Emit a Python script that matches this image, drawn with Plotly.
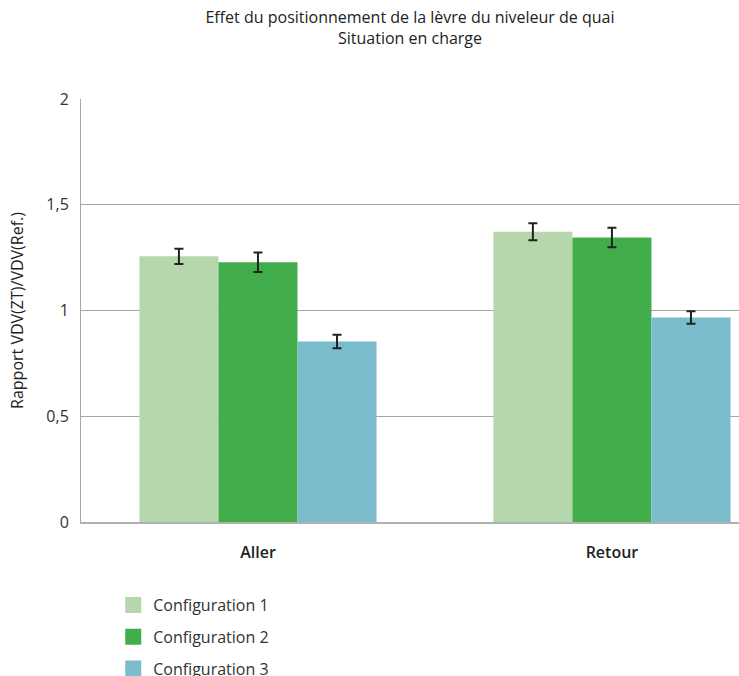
import plotly.graph_objects as go

categories = ["Aller", "Retour"]
series_names = ["Configuration 1", "Configuration 2", "Configuration 3"]
config1 = [1.256, 1.372]
config2 = [1.228, 1.345]
config3 = [0.853, 0.967]
err1 = [0.036, 0.040]
err2 = [0.046, 0.046]
err3 = [0.032, 0.030]
colors = ["#b6d7ac", "#41ae4b", "#7bbccd"]
y_ticks = [0, 0.5, 1, 1.5, 2]
y_tick_labels = ["0", "0,5", "1", "1,5", "2"]

FONT = "Open Sans"
fig = go.Figure()
for name, vals, errs, col in zip(series_names, [config1, config2, config3], [err1, err2, err3], colors):
    fig.add_trace(go.Bar(
        x=categories, y=vals, name=name, marker_color=col, marker_line_width=0,
        showlegend=False, legendgroup=name,
        error_y=dict(type="data", array=errs, visible=True, color="#222222", thickness=2, width=4.5),
    ))
for name, col in zip(series_names, colors):
    fig.add_trace(go.Scatter(
        x=[None], y=[None], mode="markers", name=name, legendgroup=name,
        marker=dict(symbol="square", size=20, color=col),
    ))

fig.update_layout(
    width=739, height=676,
    margin=dict(l=81, r=0, t=99, b=154, autoexpand=False),
    paper_bgcolor="white", plot_bgcolor="white",
    separators=", ",
    barmode="group", bargap=0.33, bargroupgap=0,
    font=dict(family=FONT, size=16, color="#333333"),
    title=dict(
        text="Effet du positionnement de la lèvre du niveleur de quai<br>Situation en charge",
        x=0.5, xref="paper", xanchor="center", y=0.966, yanchor="top",
        font=dict(family=FONT, size=16, color="#222222"),
    ),
    legend=dict(
        x=0.049, xanchor="left", y=-0.156, yanchor="top", orientation="v",
        font=dict(family=FONT, size=16, color="#333333"),
        tracegroupgap=8, itemsizing="trace",
    ),
    xaxis=dict(
        type="category", range=[-0.5, 1.359], showgrid=False,
        showline=True, linecolor="#b0b0b0", linewidth=2,
        ticks="", ticklabelstandoff=15,
        tickfont=dict(family=FONT, size=16, color="#222222", weight=600),
    ),
    yaxis=dict(
        range=[0, 2], tickvals=y_ticks, ticktext=y_tick_labels,
        showgrid=True, gridcolor="#a6a6a6", gridwidth=1,
        showline=True, linecolor="#a6a6a6", linewidth=1,
        zeroline=False, ticks="", ticklabelstandoff=8,
        title=dict(text="Rapport VDV(ZT)/VDV(Ref.)", standoff=18, font=dict(family=FONT, size=16, color="#222222")),
        tickfont=dict(family=FONT, size=16, color="#333333"),
    ),
)
fig.write_html(
    "out.html",
    config={"displayModeBar": False},
    post_script="document.body.style.margin='0';document.body.style.overflow='hidden';",
)
